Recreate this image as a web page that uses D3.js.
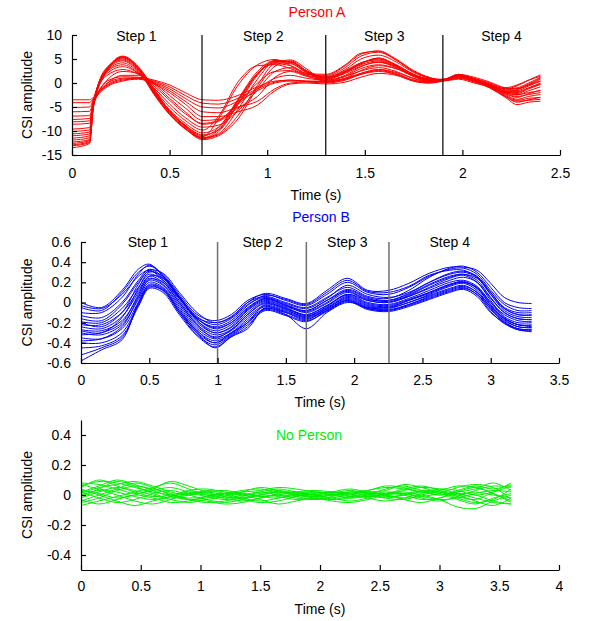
<!DOCTYPE html>
<html><head><meta charset="utf-8">
<script src="https://cdn.jsdelivr.net/npm/d3@7"></script>
<style>body{margin:0;background:#fff} text{font-family:"Liberation Sans",Arial,Helvetica,sans-serif}</style>
</head><body><svg id="c" width="590" height="621"></svg>
<script>
// ---------- Panel A (Person A) ----------
const timeA = [0,0.09,0.11,0.18,0.26,0.34,0.42,0.5,0.58,0.67,0.75,0.85,0.95,1.04,1.12,1.2,1.3,1.4,1.48,1.57,1.66,1.75,1.83,1.9,1.98,2.06,2.14,2.22,2.28,2.34,2.4];
const seriesA = [
 [-13.5,-12.6,-5,2.5,5.5,3,-2,-6.5,-9.5,-11.8,-11,-7.5,-1,3.5,4.6,2.6,0.2,0.8,1.8,2.6,1.8,0.4,0,0.4,1.5,0.6,-0.8,-2.8,-4,-3.5,-3],
 [-12.9,-12.2,-4.8,2.8,5.3,3.2,-1.6,-6.2,-9.2,-11.5,-10.8,-6.8,-0.5,4.2,4.8,3,0.4,1,2,2.8,2,0.6,0.2,0.5,1.6,0.5,-1,-3,-4.5,-4,-3.8],
 [-12.6,-12,-4.6,3,5.2,3,-1.8,-6,-9,-11.2,-7.5,-0.5,3.8,4.9,3.6,1.6,0.6,1.4,2.5,3.2,2.4,0.9,0.3,0.6,1.8,0.8,-0.6,-2.2,-3,-2.2,-1.5],
 [-11.9,-11.4,-4.5,3.3,5,2.8,-2.2,-6.4,-9.4,-11.6,-10.2,-4.5,1.6,4.6,4.2,2.2,0.8,2,3.5,4.3,3.2,1.4,0.6,0.7,1.7,0.9,-0.3,-1.8,-2.2,-1.2,-0.3],
 [-11.5,-11,-4.3,3.1,4.8,2.6,-2.4,-6.6,-9.6,-11.4,-10.6,-5.5,0.8,4.4,4.4,2.5,1,2.4,4.2,5,3.8,1.8,0.8,0.8,1.6,0.8,-0.4,-2,-2.5,-1.6,-0.8],
 [-11,-10.6,-4.2,2.8,4.6,2.4,-2,-6,-8.8,-10.8,-9.8,-4.2,1.8,4.2,4,2.3,1.2,2.8,5,5.8,4.4,2.2,1,0.7,1.4,0.6,-0.6,-2.4,-3.4,-2.8,-2.4],
 [-10.6,-10.2,-4,2.6,4.2,2.2,-1.8,-5.6,-8.4,-10.4,-9.2,-3.6,2,4,3.6,2,1.4,3.2,5.6,6.4,4.8,2.4,1.1,0.6,1.2,0.4,-0.8,-2.6,-3.6,-3.2,-3],
 [-10.1,-9.8,-3.8,2.4,3.8,2,-1.4,-5,-7.8,-9.8,-7,0.2,3.6,3.8,3,1.8,1.6,3.6,6,6.7,5,2.6,1.2,0.6,1.3,0.6,-0.4,-1.6,-1.6,-0.6,0.4],
 [-9.6,-9.3,-3.6,2,3.4,2,-1,-4.4,-7.2,-9.2,-8.8,-5.8,-1.5,2.4,3.2,2,1.8,3.8,6.2,6.6,4.8,2.4,1,0.5,1,0.2,-1,-2.8,-3.8,-3.6,-3.4],
 [-8.6,-8.4,-3.4,1.6,2.8,1.8,-0.6,-3.6,-6.4,-8.4,-7.8,-4.2,0,2.4,2.6,1.6,1.2,2.6,4.2,4.8,3.6,1.8,0.8,0.6,1.4,0.6,-0.6,-2,-2,-1,0],
 [-12.3,-11.8,-4.6,2.9,5.4,3.3,-1.4,-5.8,-8.8,-11,-9.4,-3.4,2.4,4.7,4.4,2.4,1,2.2,3.8,4.6,3.4,1.4,0.6,0.6,1.5,0.6,-0.6,-2.2,-2.8,-2.4,-2],
 [-13.1,-12.4,-4.9,2.7,5.6,3.4,-1.2,-5.8,-9,-11.4,-9.8,-3.8,2,4.5,4.4,2.6,1.2,2.4,4,5.2,3.6,1.4,0.4,0.5,1.8,1.2,0.2,-1,-1.2,-0.2,1],
 [-3.5,-3.5,-3,0.4,1.3,1.2,0.6,-0.4,-2,-3.5,-3.6,-2.6,-0.8,0.4,0.6,0.4,0.2,1,2.6,3.6,3,1.6,0.8,0.5,1,0.4,-0.4,-1.2,-0.6,0.6,1.7],
 [-4.1,-4.1,-3.2,0,1,1.1,0.4,-0.8,-2.6,-4.2,-4.4,-3.2,-1.2,0.2,0.6,0.4,0.4,1.4,3,3.8,3,1.4,0.6,0.4,0.8,0,-0.8,-1.8,-1.4,-0.4,0.8],
 [-5.1,-5,-3.5,-0.4,0.8,1,0.2,-1.2,-3.2,-5,-5.2,-3.8,-1.6,0,0.4,0.3,0.2,0.8,2,2.8,2.2,1,0.4,0.5,1.2,0.6,-0.2,-1.2,-1,0,1.2],
 [-6,-5.9,-3.8,-0.6,0.6,0.9,0,-1.6,-3.8,-6,-6.2,-5,-3.8,-1.2,0,0.2,0,0.6,1.8,2.4,1.8,0.6,0.2,0.6,1.6,1,0,-1,-0.4,0.6,1.4],
 [-6.9,-6.8,-4.2,-0.8,0.4,0.8,-0.2,-2,-4.4,-7,-7,-6,-4.6,-1.6,-0.2,0,-0.2,0.2,1.2,2,1.6,0.4,0,0.5,1.4,0.8,-0.2,-1.4,-1.2,-0.4,0.4],
 [-7.6,-7.4,-4.4,-0.2,1.6,1.6,0,-2.6,-5.2,-7.8,-7.6,-4.4,-1.2,1,1.6,1,0.6,1.6,3.4,4.4,3.4,1.6,0.6,0.6,1.5,0.7,-0.5,-1.8,-1.8,-1,-0.2],
 [-8.1,-7.9,-4.6,0.6,2.4,2,-0.2,-3.2,-6,-8.6,-8,-5.2,-2.8,1.2,2.4,1.4,0.8,2.2,4,5.2,3.8,1.8,0.7,0.6,1.4,0.6,-0.6,-2,-2.4,-2,-1.6]
];
const stepsA = [0.666, 1.30, 1.90];
const stepLabelXA = [0.33, 0.98, 1.6, 2.2];
const xTicksA = [0,0.5,1,1.5,2,2.5];
const yTicksA = [-15,-10,-5,0,5,10];

// ---------- Panel B (Person B) ----------
const timeB = [0,0.15,0.3,0.42,0.5,0.6,0.72,0.85,0.98,1.1,1.22,1.35,1.5,1.65,1.8,1.95,2.1,2.25,2.4,2.55,2.7,2.8,2.9,3.0,3.1,3.2,3.3];
const seriesB = [
 [0.0,-0.05,0.12,0.33,0.38,0.26,0.05,-0.15,-0.2,-0.15,0.0,0.06,0.0,-0.05,0.05,0.15,0.06,0.04,0.12,0.25,0.34,0.36,0.3,0.15,0.0,-0.05,-0.06],
 [-0.05,-0.08,0.1,0.3,0.36,0.28,0.08,-0.12,-0.18,-0.12,0.02,0.08,0.02,-0.03,0.08,0.2,0.1,0.08,0.15,0.26,0.33,0.34,0.28,0.12,-0.02,-0.08,-0.08],
 [-0.1,-0.1,0.05,0.28,0.37,0.27,0.06,-0.14,-0.22,-0.16,-0.02,0.05,-0.01,-0.06,0.04,0.17,0.08,0.05,0.1,0.2,0.28,0.3,0.25,0.08,-0.08,-0.14,-0.15],
 [-0.13,-0.15,0.0,0.22,0.33,0.25,0.05,-0.16,-0.26,-0.2,-0.05,0.04,-0.02,-0.08,0.02,0.13,0.05,0.02,0.08,0.18,0.26,0.28,0.22,0.05,-0.1,-0.16,-0.17],
 [-0.16,-0.18,-0.02,0.2,0.31,0.24,0.04,-0.18,-0.28,-0.22,-0.07,0.03,-0.03,-0.1,-0.01,0.1,0.02,0.0,0.06,0.15,0.24,0.27,0.2,0.02,-0.14,-0.2,-0.2],
 [-0.19,-0.2,-0.06,0.15,0.28,0.22,0.02,-0.2,-0.3,-0.25,-0.1,0.01,-0.05,-0.12,-0.03,0.08,0.0,-0.02,0.04,0.12,0.2,0.22,0.16,0.0,-0.15,-0.22,-0.22],
 [-0.22,-0.22,-0.1,0.12,0.26,0.2,0.0,-0.22,-0.32,-0.27,-0.12,-0.01,-0.06,-0.13,-0.05,0.06,-0.02,-0.04,0.02,0.1,0.18,0.21,0.14,-0.03,-0.17,-0.24,-0.25],
 [-0.24,-0.26,-0.14,0.1,0.24,0.18,-0.02,-0.24,-0.34,-0.28,-0.14,-0.03,-0.08,-0.14,-0.06,0.05,-0.03,-0.05,0.0,0.08,0.16,0.19,0.12,-0.05,-0.19,-0.26,-0.27],
 [-0.27,-0.28,-0.18,0.06,0.22,0.17,-0.04,-0.26,-0.36,-0.3,-0.16,-0.04,-0.09,-0.15,-0.07,0.03,-0.05,-0.07,-0.02,0.06,0.13,0.16,0.1,-0.07,-0.2,-0.27,-0.29],
 [-0.3,-0.32,-0.22,0.03,0.2,0.15,-0.06,-0.28,-0.38,-0.31,-0.18,-0.06,-0.1,-0.16,-0.08,0.02,-0.06,-0.08,-0.03,0.04,0.11,0.14,0.08,-0.09,-0.21,-0.27,-0.28],
 [-0.35,-0.36,-0.26,0.0,0.18,0.14,-0.08,-0.3,-0.4,-0.32,-0.2,-0.07,-0.12,-0.18,-0.09,0.01,-0.07,-0.09,-0.04,0.03,0.1,0.13,0.06,-0.1,-0.2,-0.26,-0.27],
 [-0.4,-0.4,-0.3,-0.02,0.16,0.12,-0.1,-0.32,-0.42,-0.33,-0.22,-0.08,-0.13,-0.19,-0.08,0.02,-0.06,-0.08,-0.02,0.05,0.12,0.15,0.08,-0.06,-0.18,-0.24,-0.25],
 [-0.45,-0.43,-0.33,-0.04,0.14,0.1,-0.12,-0.33,-0.44,-0.34,-0.24,-0.06,-0.12,-0.26,-0.1,0.0,-0.05,-0.06,0.0,0.07,0.14,0.17,0.1,-0.04,-0.16,-0.22,-0.23],
 [-0.52,-0.45,-0.35,-0.02,0.15,0.12,-0.1,-0.3,-0.45,-0.34,-0.26,-0.05,-0.1,-0.17,-0.06,0.04,-0.04,-0.05,0.02,0.09,0.17,0.2,0.14,0.0,-0.12,-0.18,-0.19],
 [-0.58,-0.47,-0.37,0.0,0.17,0.13,-0.08,-0.28,-0.4,-0.3,-0.2,-0.02,-0.07,-0.14,-0.04,0.08,0.02,0.0,0.06,0.14,0.22,0.25,0.2,0.04,-0.1,-0.16,-0.17],
 [-0.03,-0.06,0.08,0.26,0.32,0.22,0.04,-0.16,-0.24,-0.18,-0.03,0.07,0.03,-0.02,0.1,0.22,0.11,0.1,0.16,0.27,0.32,0.32,0.25,0.1,-0.05,-0.1,-0.1],
 [-0.2,-0.24,-0.1,0.18,0.32,0.29,0.1,-0.1,-0.2,-0.14,0.0,0.09,0.04,-0.01,0.12,0.24,0.12,0.12,0.19,0.29,0.35,0.35,0.32,0.19,0.05,0.0,-0.01],
 [-0.32,-0.3,-0.2,0.08,0.26,0.24,0.06,-0.18,-0.3,-0.24,-0.08,0.02,-0.04,-0.09,0.0,0.12,0.04,0.01,0.07,0.17,0.25,0.28,0.24,0.08,-0.06,-0.12,-0.12],
 [-0.28,-0.3,-0.15,0.14,0.3,0.26,0.06,-0.16,-0.25,-0.2,-0.06,0.04,-0.03,-0.08,0.02,0.11,0.03,0.02,0.09,0.2,0.29,0.31,0.26,0.1,-0.06,-0.12,-0.13],
 [-0.38,-0.36,-0.24,0.05,0.23,0.2,0.0,-0.22,-0.35,-0.27,-0.12,0.0,-0.06,-0.12,-0.03,0.07,-0.01,-0.03,0.03,0.1,0.18,0.2,0.15,-0.02,-0.16,-0.22,-0.24]
];
const stepsB = [1.0, 1.65, 2.255];
const stepLabelXB = [0.49, 1.33, 1.95, 2.70];
const xTicksB = [0,0.5,1,1.5,2,2.5,3,3.5];
const yTicksB = [-0.6,-0.4,-0.2,0,0.2,0.4,0.6];

// ---------- Panel C (No Person) ----------
const timeC = [0,0.15,0.3,0.45,0.6,0.75,0.9,1.05,1.2,1.35,1.5,1.65,1.8,1.95,2.1,2.25,2.4,2.55,2.7,2.85,3.0,3.15,3.3,3.45,3.6];
const seriesC = [
 [0.06,0.09,0.08,0.05,0.02,0.0,-0.02,-0.01,0.01,0.03,0.04,0.02,0.0,0.01,0.02,0.01,0.03,0.05,0.04,0.02,0.0,0.03,0.06,0.04,0.07],
 [-0.05,-0.02,0.03,0.06,0.04,0.01,-0.03,-0.05,-0.04,-0.02,0.0,-0.01,-0.03,-0.02,0.0,0.02,0.01,-0.01,0.0,0.02,0.01,-0.03,-0.06,-0.02,0.01],
 [0.02,0.06,0.1,0.07,0.03,-0.01,-0.03,-0.02,0.0,0.01,-0.01,-0.02,0.0,0.02,0.01,-0.01,0.0,0.04,0.06,0.03,0.0,0.02,0.04,0.08,0.03],
 [0.0,0.03,0.0,-0.04,-0.06,-0.03,0.01,0.02,0.0,-0.03,-0.05,-0.04,-0.01,0.0,-0.02,-0.04,-0.02,0.01,0.02,0.0,-0.03,-0.08,-0.09,-0.04,0.0],
 [0.08,0.07,0.04,0.01,0.03,0.05,0.02,0.0,0.01,0.02,0.03,0.05,0.04,0.02,0.0,0.01,0.02,0.03,0.07,0.05,0.02,0.0,0.02,0.0,-0.02],
 [-0.07,-0.04,-0.01,0.02,0.05,0.08,0.04,0.0,-0.02,0.0,0.02,0.0,-0.02,-0.03,-0.02,0.0,0.02,0.0,-0.02,-0.01,0.01,0.05,0.07,0.05,-0.03],
 [0.04,0.0,-0.04,-0.07,-0.04,-0.01,0.02,0.01,-0.02,-0.04,-0.02,0.01,0.02,0.0,-0.03,-0.02,0.0,0.02,0.01,-0.02,-0.04,-0.01,0.03,0.06,0.05],
 [0.01,0.05,0.07,0.09,0.06,0.02,0.0,0.02,0.03,0.01,-0.01,0.0,0.02,0.03,0.02,0.0,-0.01,0.0,0.03,0.05,0.04,0.01,-0.02,-0.05,-0.06],
 [-0.03,-0.06,-0.03,0.0,-0.02,-0.05,-0.04,-0.01,0.01,0.0,-0.03,-0.06,-0.04,-0.02,-0.04,-0.05,-0.03,0.0,0.01,-0.01,-0.03,-0.02,0.01,0.03,0.02],
 [0.05,0.1,0.06,0.02,-0.01,0.0,0.03,0.04,0.02,0.0,0.01,0.03,0.01,-0.01,0.0,0.02,0.03,0.06,0.05,0.02,0.03,0.06,0.05,0.01,-0.04],
 [-0.02,0.02,0.05,0.03,0.0,-0.03,-0.05,-0.03,-0.01,0.02,0.05,0.03,0.0,-0.01,0.01,0.03,0.01,-0.02,-0.03,0.0,0.02,0.0,-0.04,-0.07,-0.02],
 [0.03,0.01,-0.02,0.0,0.04,0.09,0.06,0.02,-0.01,-0.02,0.0,0.02,0.01,0.0,0.02,0.01,-0.02,-0.04,-0.02,0.01,0.04,0.03,0.0,0.02,0.06],
 [-0.04,0.0,0.04,0.08,0.05,0.0,-0.03,-0.04,-0.06,-0.05,-0.02,0.0,-0.01,-0.03,-0.01,0.01,0.0,-0.02,0.0,0.03,0.02,-0.02,-0.05,-0.03,0.04],
 [0.07,0.04,0.02,-0.01,-0.03,-0.01,0.01,-0.01,-0.03,-0.01,0.02,0.04,0.02,0.0,0.02,0.04,0.02,0.01,0.04,0.06,0.03,-0.01,-0.03,0.02,0.08],
 [-0.01,0.04,0.09,0.06,0.01,-0.02,0.0,0.03,0.01,-0.02,-0.04,-0.02,0.01,0.02,0.0,-0.02,-0.01,0.01,0.0,-0.03,-0.02,0.02,0.05,0.01,-0.05],
 [0.02,-0.02,-0.05,-0.03,0.01,0.03,0.0,-0.03,-0.05,-0.03,0.0,0.02,0.0,-0.02,-0.03,-0.01,0.01,0.0,-0.03,-0.05,-0.02,0.01,0.0,-0.04,-0.06]
];
const xTicksC = [0,0.5,1,1.5,2,2.5,3,3.5,4];
const yTicksC = [-0.4,-0.2,0,0.2,0.4];

const stepNames = ["Step 1","Step 2","Step 3","Step 4"];
const titles = ["Person A","Person B","No Person"];
const colors = ["#ff0000","#0000ff","#00ee00"];

const svg = d3.select("#c");
const fmt = d => String(+d.toFixed(2));

function panel(o){
  const x = d3.scaleLinear().domain(o.xDomain).range([o.left, o.right]);
  const y = d3.scaleLinear().domain(o.yDomain).range([o.bottom, o.top]);
  const g = svg.append("g");
  const line = d3.line().x((d,i)=>x(o.time[i])).y(d=>y(d)).curve(o.curve);
  g.append("g").selectAll("path").data(o.series).join("path")
    .attr("d", line).attr("fill","none").attr("stroke", o.color)
    .attr("stroke-width", 1).attr("stroke-linejoin","round");
  if (o.steps) {
    g.append("g").selectAll("line").data(o.steps).join("line")
      .attr("x1", d=>x(d)).attr("x2", d=>x(d))
      .attr("y1", o.top).attr("y2", o.bottom)
      .attr("stroke", o.stepColor).attr("stroke-width", o.stepWidth);
    g.append("g").selectAll("text").data(o.stepLabelX).join("text")
      .attr("x", d=>x(d)).attr("y", o.stepLabelY)
      .attr("text-anchor","middle").attr("font-size",14).attr("fill","#000")
      .text((d,i)=>stepNames[i]);
  }
  const ax = g.append("g").attr("transform",`translate(0,${o.bottom})`)
    .call(d3.axisBottom(x).tickValues(o.xTicks).tickFormat(fmt).tickSizeInner(-5).tickSizeOuter(0).tickPadding(o.xPad));
  const ay = g.append("g").attr("transform",`translate(${o.left},0)`)
    .call(d3.axisLeft(y).tickValues(o.yTicks).tickFormat(fmt).tickSizeInner(-5).tickSizeOuter(0).tickPadding(10));
  [ax, ay].forEach(a => {
    a.selectAll("text").attr("font-size",14).attr("fill","#000")
      .attr("font-family",'"Liberation Sans",Arial,sans-serif');
    a.selectAll("line,path").attr("stroke","#000").attr("stroke-width",1.2);
  });
  g.append("text").attr("x",(o.left+o.right)/2).attr("y",o.xLabelY)
    .attr("text-anchor","middle").attr("font-size",14).text("Time (s)");
  g.append("text").attr("transform",`translate(32,${(o.top+o.bottom)/2}) rotate(-90)`)
    .attr("text-anchor","middle").attr("font-size",14).text("CSI amplitude");
  g.append("text").attr("x", o.titleX).attr("y", o.titleY)
    .attr("text-anchor","middle").attr("font-size",14).attr("fill",o.color).text(o.title);
}

panel({time:timeA, series:seriesA, color:colors[0], curve:d3.curveMonotoneX,
  xDomain:[0,2.5], yDomain:[-15,10], left:72, right:560, top:35, bottom:155,
  steps:stepsA, stepLabelX:stepLabelXA, stepLabelY:41, stepColor:"#000", stepWidth:1.2,
  xTicks:xTicksA, yTicks:yTicksA, xPad:13, xLabelY:200, title:titles[0], titleX:317, titleY:17});

panel({time:timeB, series:seriesB, color:colors[1], curve:d3.curveCatmullRom,
  xDomain:[0,3.5], yDomain:[-0.6,0.6], left:81, right:559, top:242, bottom:363,
  steps:stepsB, stepLabelX:stepLabelXB, stepLabelY:247, stepColor:"#6e6e6e", stepWidth:1.5,
  xTicks:xTicksB, yTicks:yTicksB, xPad:12, xLabelY:407, title:titles[1], titleX:321, titleY:222});

panel({time:timeC, series:seriesC, color:colors[2], curve:d3.curveCatmullRom,
  xDomain:[0,4], yDomain:[-0.5,0.5], left:81, right:559, top:420, bottom:570,
  steps:null, xTicks:xTicksC, yTicks:yTicksC, xPad:11, xLabelY:614,
  title:titles[2], titleX:309, titleY:440});
</script></body></html>
